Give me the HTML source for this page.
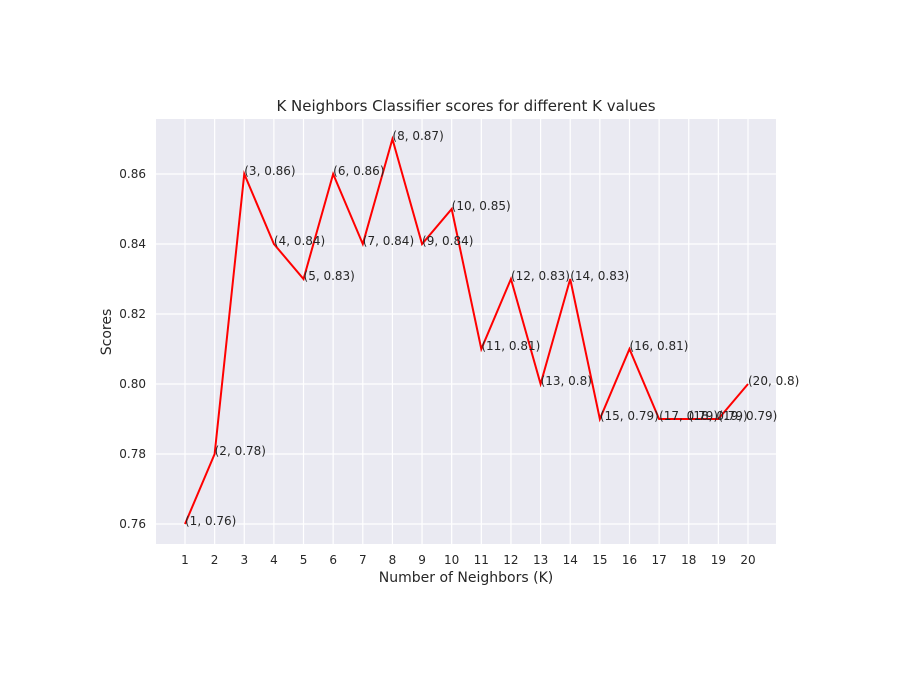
<!DOCTYPE html>
<html><head><meta charset="utf-8"><style>
body{margin:0;background:#fff;}
svg{display:block;font-family:"DejaVu Sans","Liberation Sans",sans-serif;}
</style></head><body>
<svg id="chart" width="900" height="685" viewBox="0 0 900 685">
<rect x="156" y="119" width="620" height="425" fill="#eaeaf2"/>
<g id="grid"></g>
<g id="ticks"></g>
<polyline id="line" fill="none" stroke="#ff0000" stroke-width="2"/>
<g id="ann"></g>
<text x="466" y="111" text-anchor="middle" font-size="15" fill="#262626">K Neighbors Classifier scores for different K values</text>
<text x="466" y="582" text-anchor="middle" font-size="14" fill="#262626">Number of Neighbors (K)</text>
<text x="111" y="332" text-anchor="middle" font-size="14" fill="#262626" transform="rotate(-90 111 332)">Scores</text>
</svg>
<script>
const ks=[1,2,3,4,5,6,7,8,9,10,11,12,13,14,15,16,17,18,19,20];
const scores=[0.76,0.78,0.86,0.84,0.83,0.86,0.84,0.87,0.84,0.85,0.81,0.83,0.8,0.83,0.79,0.81,0.79,0.79,0.79,0.8];
const yTicks=[0.76,0.78,0.80,0.82,0.84,0.86];
const NS="http://www.w3.org/2000/svg";
function xs(k){return 185+(k-1)*(748-185)/19;}
function ys(v){return 524-(v-0.76)*3500;}
function mk(t,a,p){const e=document.createElementNS(NS,t);for(const k in a)e.setAttribute(k,a[k]);p.appendChild(e);return e;}
const grid=document.getElementById('grid'),ticks=document.getElementById('ticks'),ann=document.getElementById('ann');
ks.forEach(k=>{
 const g=mk('line',{x1:xs(k),x2:xs(k),y1:119,y2:544,stroke:'#fff','stroke-width':1.2},grid);
 
 
 const t=mk('text',{x:xs(k),y:564,'text-anchor':'middle','font-size':12,fill:'#262626'},ticks);
 t.textContent=k;
 
 
});
yTicks.forEach(v=>{
 const g=mk('line',{x1:156,x2:776,y1:ys(v),y2:ys(v),stroke:'#fff','stroke-width':1.2},grid);
 
 
 const t=mk('text',{x:146,y:ys(v)+4,'text-anchor':'end','font-size':12,fill:'#262626'},ticks);
 t.textContent=v.toFixed(2);
 
 
});
document.getElementById('line').setAttribute('points',ks.map((k,i)=>xs(k)+','+ys(scores[i])).join(' '));
ks.forEach((k,i)=>{
 const t=mk('text',{x:xs(k),y:ys(scores[i])+1,'font-size':12,fill:'#262626'},ann);
 t.textContent='('+k+', '+scores[i]+')';
 
 
});
</script>
</body></html>
